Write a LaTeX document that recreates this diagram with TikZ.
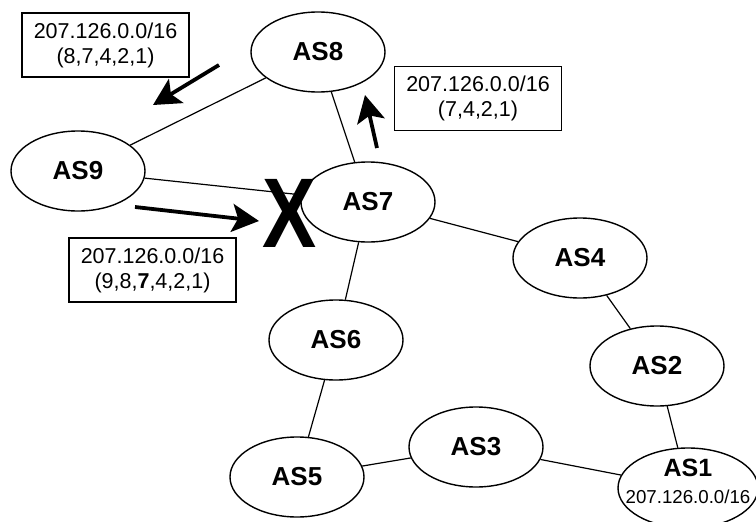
\documentclass[tikz,border=0pt]{standalone}
\usepackage{fontspec}
\setmainfont{Liberation Sans}
\usetikzlibrary{shapes.geometric,arrows.meta}
\tikzset{
  asnode/.style={draw, ellipse, line width=1.4pt, minimum width=134pt, minimum height=80pt, inner sep=0pt, font=\fontsize{26}{26}\selectfont\bfseries},
  link/.style={line width=1.2pt},
  msgbox/.style={draw, rectangle, line width=1.2pt, minimum width=167pt, minimum height=64pt, inner sep=0pt, align=center, font=\fontsize{21.5}{25}\selectfont},
  bigarrow/.style={line width=3.8pt, -{Stealth[length=27pt,width=28pt,inset=6pt]}}
}
\begin{document}
\begin{tikzpicture}[x=1pt,y=-1pt]
\useasboundingbox (0,0) rectangle (756,522);
\clip (0,0) rectangle (756,522);
\node[asnode] (AS8) at (318,52) {AS8};
\node[asnode] (AS9) at (78,171) {AS9};
\node[asnode] (AS7) at (368,202) {AS7};
\node[asnode] (AS4) at (580,258) {AS4};
\node[asnode] (AS6) at (336,340) {AS6};
\node[asnode] (AS2) at (657,366) {AS2};
\node[asnode] (AS3) at (476,447) {AS3};
\node[asnode] (AS5) at (297,477) {AS5};
\node[asnode, minimum width=140pt] (AS1) at (688,488) {};
\node[font=\fontsize{25}{25}\selectfont\bfseries, inner sep=0pt] (as1t) at (688,468) {AS1};
\node[font=\fontsize{18.7}{20}\selectfont, inner sep=0pt] (as1p) at (688,497) {207.126.0.0/16};

\draw[link] (AS8) -- (AS9);
\draw[link] (AS8) -- (AS7);
\draw[link] (AS9) -- (AS7);
\draw[link] (AS7) -- (AS4);
\draw[link] (AS7) -- (AS6);
\draw[link] (AS4) -- (AS2);
\draw[link] (AS2) -- (AS1);
\draw[link] (AS6) -- (AS5);
\draw[link] (AS5) -- (AS3);
\draw[link] (AS3) -- (AS1);

\node[msgbox] (b1) at (105.5,45) {207.126.0.0/16\\(8,7,4,2,1)};
\node[msgbox] (b2) at (478,98.5) {207.126.0.0/16\\(7,4,2,1)};
\node[msgbox] (b3) at (152.5,270) {207.126.0.0/16\\(9,8,\textbf{7},4,2,1)};

\coordinate (a1s) at (219,65);
\coordinate (a1e) at (153,105);
\coordinate (a2s) at (377,148);
\coordinate (a2e) at (365,95);
\coordinate (a3s) at (135,207);
\coordinate (a3e) at (259,221);
\draw[bigarrow] (a1s) -- (a1e);
\draw[bigarrow] (a2s) -- (a2e);
\draw[bigarrow] (a3s) -- (a3e);

\node[font=\fontsize{99}{99}\selectfont\bfseries, inner sep=0pt, xscale=0.82] (cut) at (290,213.5) {X};
\end{tikzpicture}
\end{document}
